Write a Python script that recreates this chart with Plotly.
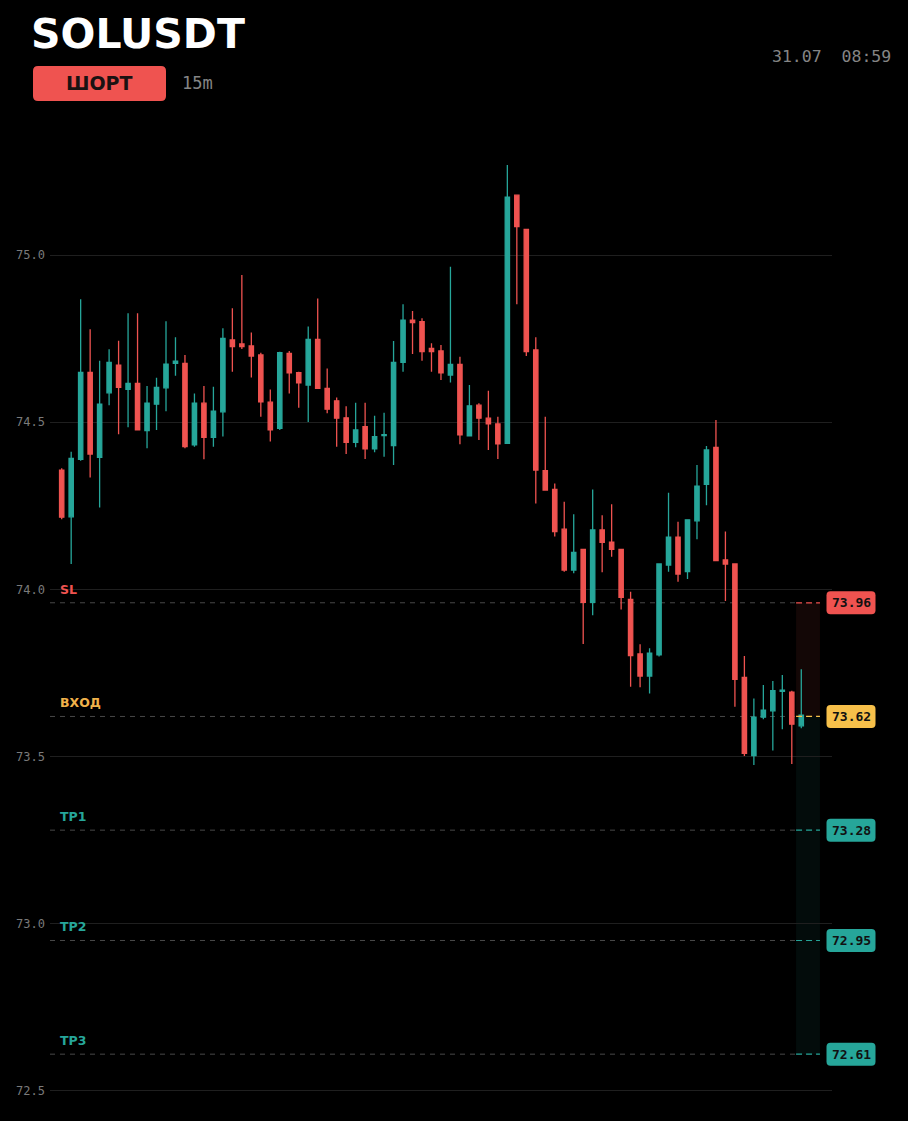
import plotly.graph_objects as go

# ---------------- data ----------------
opens = [74.357, 74.217, 74.389, 74.649, 74.395, 74.588, 74.671, 74.598, 74.616, 74.475,
         74.554, 74.603, 74.676, 74.676, 74.432, 74.557, 74.455, 74.531, 74.746, 74.734,
         74.728, 74.701, 74.560, 74.482, 74.706, 74.648, 74.611, 74.748, 74.601, 74.564,
         74.513, 74.440, 74.487, 74.420, 74.460, 74.430, 74.679, 74.805, 74.801, 74.721,
         74.713, 74.641, 74.673, 74.459, 74.551, 74.512, 74.495, 74.437, 75.179, 75.077,
         74.716, 74.355, 74.299, 74.180, 74.058, 74.120, 73.961, 74.178, 74.141, 74.120,
         73.970, 73.807, 73.741, 73.804, 74.073, 74.156, 74.053, 74.205, 74.314, 74.425,
         74.088, 74.076, 73.737, 73.503, 73.618, 73.637, 73.695, 73.693, 73.592]
highs = [74.362, 74.412, 74.868, 74.778, 74.684, 74.718, 74.744, 74.826, 74.826, 74.608,
         74.633, 74.802, 74.754, 74.701, 74.586, 74.608, 74.606, 74.781, 74.841, 74.940,
         74.768, 74.708, 74.598, 74.711, 74.713, 74.651, 74.786, 74.870, 74.661, 74.574,
         74.548, 74.558, 74.558, 74.519, 74.528, 74.743, 74.853, 74.833, 74.811, 74.736,
         74.731, 74.965, 74.696, 74.611, 74.557, 74.594, 74.516, 75.269, 75.179, 75.077,
         74.754, 74.516, 74.317, 74.262, 74.225, 74.120, 74.299, 74.222, 74.255, 74.120,
         73.993, 73.836, 73.824, 74.078, 74.289, 74.202, 74.208, 74.372, 74.429, 74.507,
         74.173, 74.076, 73.801, 73.674, 73.714, 73.726, 73.744, 73.697, 73.761]
lows = [74.210, 74.076, 74.385, 74.335, 74.245, 74.551, 74.464, 74.485, 74.475, 74.422,
        74.477, 74.533, 74.639, 74.422, 74.427, 74.389, 74.427, 74.457, 74.651, 74.719,
        74.634, 74.516, 74.442, 74.477, 74.586, 74.543, 74.501, 74.600, 74.527, 74.427,
        74.405, 74.425, 74.390, 74.410, 74.397, 74.372, 74.651, 74.704, 74.684, 74.651,
        74.626, 74.619, 74.434, 74.459, 74.447, 74.417, 74.390, 74.437, 74.853, 74.698,
        74.257, 74.295, 74.158, 74.053, 74.048, 73.837, 73.923, 74.051, 74.098, 73.940,
        73.709, 73.707, 73.689, 73.799, 74.053, 74.023, 74.031, 74.150, 74.252, 74.086,
        73.965, 73.649, 73.502, 73.475, 73.612, 73.518, 73.582, 73.478, 73.585]
closes = [74.216, 74.392, 74.649, 74.405, 74.554, 74.679, 74.604, 74.616, 74.477, 74.557,
          74.604, 74.674, 74.683, 74.427, 74.557, 74.455, 74.533, 74.751, 74.726, 74.726,
          74.698, 74.561, 74.477, 74.708, 74.648, 74.618, 74.748, 74.601, 74.539, 74.512,
          74.440, 74.477, 74.420, 74.457, 74.463, 74.679, 74.805, 74.798, 74.711, 74.711,
          74.648, 74.673, 74.462, 74.549, 74.512, 74.495, 74.435, 75.173, 75.085, 74.711,
          74.357, 74.297, 74.173, 74.058, 74.111, 73.961, 74.178, 74.141, 74.120, 73.976,
          73.802, 73.741, 73.809, 74.076, 74.156, 74.046, 74.208, 74.309, 74.417, 74.086,
          74.076, 73.731, 73.510, 73.618, 73.639, 73.697, 73.699, 73.597, 73.624]

y_ticks = [72.5, 73.0, 73.5, 74.0, 74.5, 75.0]

level_names = ["SL", "ВХОД", "TP1", "TP2", "TP3"]
level_prices = [73.96, 73.62, 73.28, 72.95, 72.61]
level_box_colors = ["#ef5350", "#f7c04a", "#26a69a", "#26a69a", "#26a69a"]
level_text_colors = ["#ef5350", "#f0b24a", "#26a69a", "#26a69a", "#26a69a"]

symbol = "SOLUSDT"
side = "ШОРТ"
timeframe = "15m"
stamp = "31.07\u00a0\u00a008:59"

# ---------------- style ----------------
GREEN = "#26a69a"
RED = "#ef5350"
W, H = 908, 1121
ML, MR, MT, MB = 50, 76, 135, 15
X_RANGE = [-1.234, 81.24]
Y_RANGE = [72.455, 75.359]
ZONE_X0, ZONE_X1 = 77.45, 79.97

n = len(opens)
fig = go.Figure()
fig.add_trace(go.Candlestick(
    x=list(range(n)), open=opens, high=highs, low=lows, close=closes,
    increasing=dict(line=dict(color=GREEN, width=1.3), fillcolor=GREEN),
    decreasing=dict(line=dict(color=RED, width=1.3), fillcolor=RED),
    whiskerwidth=0, showlegend=False, hoverinfo="skip",
))

shapes = []
annotations = []

# trade zones
shapes.append(dict(type="rect", xref="x", yref="y", x0=ZONE_X0, x1=ZONE_X1,
                   y0=level_prices[1], y1=level_prices[0],
                   fillcolor="rgba(239,83,80,0.08)", line=dict(width=0), layer="below"))
shapes.append(dict(type="rect", xref="x", yref="y", x0=ZONE_X0, x1=ZONE_X1,
                   y0=level_prices[4], y1=level_prices[1],
                   fillcolor="rgba(38,166,154,0.07)", line=dict(width=0), layer="below"))

hw, hh, r = 24.5, 11.5, 4
box_path = (f"M{-hw + r},{-hh} L{hw - r},{-hh} Q{hw},{-hh} {hw},{-hh + r} "
            f"L{hw},{hh - r} Q{hw},{hh} {hw - r},{hh} L{-hw + r},{hh} "
            f"Q{-hw},{hh} {-hw},{hh - r} L{-hw},{-hh + r} Q{-hw},{-hh} {-hw + r},{-hh} Z")
plot_w = W - ML - MR
plot_h = H - MT - MB
box_cx = (851 - ML) / plot_w

for name, price, bc, tc in zip(level_names, level_prices, level_box_colors, level_text_colors):
    shapes.append(dict(type="line", xref="x", yref="y", x0=X_RANGE[0], x1=ZONE_X0,
                       y0=price, y1=price, layer="below",
                       line=dict(color="rgba(120,120,120,0.6)", width=1, dash="5px,5px")))
    shapes.append(dict(type="line", xref="x", yref="y", x0=ZONE_X0, x1=ZONE_X1,
                       y0=price, y1=price, layer="above",
                       line=dict(color=bc, width=1.2, dash="6px,4px")))
    shapes.append(dict(type="path", xref="paper", yref="y", xsizemode="pixel", ysizemode="pixel",
                       xanchor=box_cx, yanchor=price, path=box_path,
                       fillcolor=bc, line=dict(width=0), layer="above"))
    annotations.append(dict(xref="paper", yref="y", x=box_cx, y=price, text=f"{price:.2f}",
                            showarrow=False, xanchor="center", yanchor="middle",
                            font=dict(family="DejaVu Sans Mono", size=13, color="#111111", weight="bold")))
    annotations.append(dict(xref="paper", yref="y", x=(58 - ML) / plot_w, y=price, yshift=13.5,
                            text=name, showarrow=False, xanchor="left", yanchor="middle",
                            font=dict(family="DejaVu Sans", size=12.5, color=tc, weight="bold")))


def py(px):
    return (H - MB - px) / plot_h


def pxx(px):
    return (px - ML) / plot_w


# header
annotations.append(dict(xref="paper", yref="paper", x=pxx(29), y=py(34), text=symbol,
                        showarrow=False, xanchor="left", yanchor="middle",
                        font=dict(family="DejaVu Sans", size=41, color="#ffffff", weight="bold")))
badge_w, badge_h, br = 66.5, 17.5, 5
badge_path = (f"M{-badge_w + br},{-badge_h} L{badge_w - br},{-badge_h} Q{badge_w},{-badge_h} {badge_w},{-badge_h + br} "
              f"L{badge_w},{badge_h - br} Q{badge_w},{badge_h} {badge_w - br},{badge_h} L{-badge_w + br},{badge_h} "
              f"Q{-badge_w},{badge_h} {-badge_w},{badge_h - br} L{-badge_w},{-badge_h + br} Q{-badge_w},{-badge_h} {-badge_w + br},{-badge_h} Z")
shapes.append(dict(type="path", xref="paper", yref="paper", xsizemode="pixel", ysizemode="pixel",
                   xanchor=pxx(99.5), yanchor=py(83.5), path=badge_path,
                   fillcolor="#ef5350", line=dict(width=0), layer="above"))
annotations.append(dict(xref="paper", yref="paper", x=pxx(99.5), y=py(83.5), text=side,
                        showarrow=False, xanchor="center", yanchor="middle",
                        font=dict(family="DejaVu Sans", size=19, color="#1a1212", weight="bold")))
annotations.append(dict(xref="paper", yref="paper", x=pxx(180), y=py(83), text=timeframe,
                        showarrow=False, xanchor="left", yanchor="middle",
                        font=dict(family="DejaVu Sans Mono", size=17, color="#858585")))
annotations.append(dict(xref="paper", yref="paper", x=pxx(893), y=py(56.5), text=stamp,
                        showarrow=False, xanchor="right", yanchor="middle",
                        font=dict(family="DejaVu Sans Mono", size=16.5, color="#858585")))

fig.update_layout(
    width=W, height=H,
    margin=dict(l=ML, r=MR, t=MT, b=MB, pad=0),
    paper_bgcolor="#000000", plot_bgcolor="#000000",
    boxgap=0.35,
    shapes=shapes, annotations=annotations,
    showlegend=False,
    xaxis=dict(range=X_RANGE, showgrid=False, zeroline=False, showticklabels=False,
               showline=False, ticks="", rangeslider=dict(visible=False), fixedrange=True),
    yaxis=dict(range=Y_RANGE, tickvals=y_ticks, ticktext=[f"{v:.1f}" for v in y_ticks],
               showgrid=True, gridcolor="#1f1f1f", gridwidth=1, zeroline=False,
               showline=False, ticks="", fixedrange=True, ticklabelstandoff=4,
               tickfont=dict(family="DejaVu Sans Mono", size=12, color="#7a7a7a")),
)

fig.write_html("out.html", config={"displayModeBar": False})
